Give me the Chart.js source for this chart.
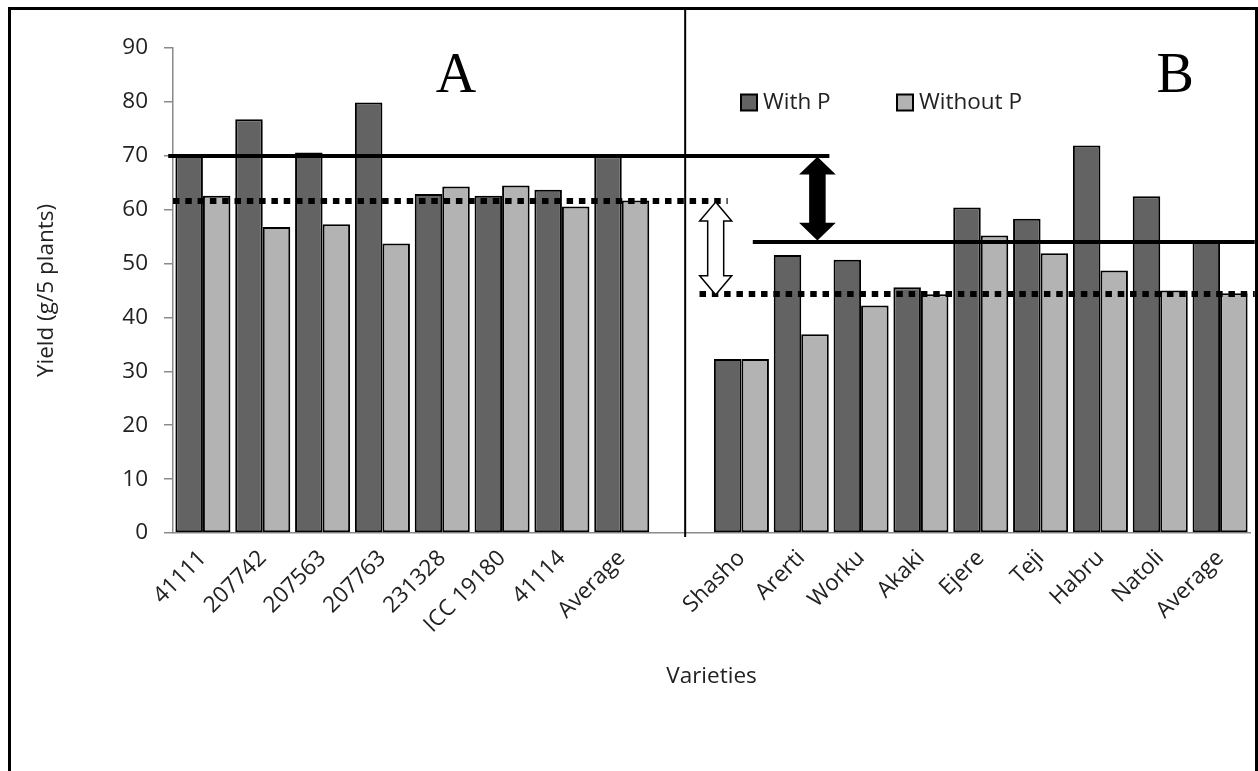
<!DOCTYPE html>
<html>
<head>
<meta charset="utf-8">
<script src="https://cdn.jsdelivr.net/npm/chart.js@4.4.1/dist/chart.umd.min.js"></script>
<style>
  html, body { margin: 0; padding: 0; background: #fff; }
  #wrap { width: 1258px; height: 771px; position: relative; }
</style>
</head>
<body>
<div id="wrap"><canvas id="c" width="1258" height="771"></canvas></div>
<script>
// ---- data ----
const categories = ['41111', '207742', '207563', '207763', '231328', 'ICC 19180', '41114', 'Average', '',
                    'Shasho', 'Arerti', 'Worku', 'Akaki', 'Ejere', 'Teji', 'Habru', 'Natoli', 'Average'];
const withP    = [70.0, 76.8, 70.6, 79.9, 62.9, 62.6, 63.7, 69.9, null,
                  32.3, 51.6, 50.7, 45.6, 60.4, 58.3, 71.9, 62.5, 54.0];
const withoutP = [62.6, 56.8, 57.3, 53.7, 64.3, 64.5, 60.6, 61.7, null,
                  32.3, 36.9, 42.2, 44.3, 55.2, 51.9, 48.7, 45.0, 44.5];
const seriesNames = ['With P', 'Without P'];
const avgWithPLines = [69.9, 54.0];     // group A, group B
const avgWithoutPLines = [61.6, 44.3];  // group A, group B
const panelLabels = ['A', 'B'];

const FONT = "'Open Sans', 'Noto Sans', sans-serif";
const FS = 22.5;
const TXT = '#222';
const DARK = '#636363';
const LIGHT = '#b3b3b3';
const AXIS = '#8a8a8a';

function doubleArrow(ctx, x, y1, y2, sw, hw, hl, fill) {
  ctx.beginPath();
  ctx.moveTo(x, y1);
  ctx.lineTo(x + hw / 2, y1 + hl);
  ctx.lineTo(x + sw / 2, y1 + hl);
  ctx.lineTo(x + sw / 2, y2 - hl);
  ctx.lineTo(x + hw / 2, y2 - hl);
  ctx.lineTo(x, y2);
  ctx.lineTo(x - hw / 2, y2 - hl);
  ctx.lineTo(x - sw / 2, y2 - hl);
  ctx.lineTo(x - sw / 2, y1 + hl);
  ctx.lineTo(x - hw / 2, y1 + hl);
  ctx.closePath();
  ctx.fillStyle = fill;
  ctx.fill();
  ctx.lineWidth = 1.5;
  ctx.strokeStyle = '#000';
  ctx.stroke();
}

const overlay = {
  id: 'overlay',
  afterDatasetsDraw(chart) {
    const ctx = chart.ctx;
    const xs = chart.scales.x, ys = chart.scales.y;
    const X = v => xs.getPixelForValue(v);
    const Y = v => ys.getPixelForValue(v);
    ctx.save();

    // outer frame
    ctx.strokeStyle = '#000';
    ctx.lineWidth = 3;
    ctx.strokeRect(9.5, 8.5, 1247, 780);

    // separator between groups
    ctx.lineWidth = 2;
    ctx.beginPath();
    ctx.moveTo(X(8.06), 9);
    ctx.lineTo(X(8.06), chart.chartArea.bottom + 4);
    ctx.stroke();

    // average lines
    const rightEdge = X(17.58);
    const lines = [
      { v: avgWithPLines[0], a: -0.58, b: 10.47, dotted: false },
      { v: avgWithoutPLines[0], a: -0.5, b: 8.77, dotted: true },
      { v: avgWithPLines[1], a: 9.19, b: null, dotted: false },
      { v: avgWithoutPLines[1], a: 8.3, b: null, dotted: true }
    ];
    lines.forEach(l => {
      ctx.beginPath();
      ctx.strokeStyle = '#000';
      ctx.lineCap = 'butt';
      if (l.dotted) { ctx.lineWidth = 6; ctx.setLineDash([6.5, 5.8]); }
      else { ctx.lineWidth = 4; ctx.setLineDash([]); }
      const y = Math.round(Y(l.v));
      ctx.moveTo(X(l.a), y);
      ctx.lineTo(l.b === null ? rightEdge : X(l.b), y);
      ctx.stroke();
    });
    ctx.setLineDash([]);

    // arrows
    doubleArrow(ctx, X(10.27), Y(avgWithPLines[0]) + 1.5, Y(avgWithPLines[1]) - 2.5, 15, 33, 16, '#000');
    doubleArrow(ctx, X(8.57), Y(avgWithoutPLines[0]) + 1, Y(avgWithoutPLines[1]) + 0.5, 16, 32, 19, '#fff');

    // legend
    ctx.font = FS + 'px ' + FONT;
    ctx.textBaseline = 'middle';
    ctx.textAlign = 'left';
    const legendItems = [
      { x: 741, color: DARK, text: seriesNames[0] },
      { x: 897, color: LIGHT, text: seriesNames[1] }
    ];
    legendItems.forEach(it => {
      ctx.fillStyle = it.color;
      ctx.fillRect(it.x, 94.5, 16, 16);
      ctx.lineWidth = 2;
      ctx.strokeStyle = '#000';
      ctx.strokeRect(it.x, 94.5, 16, 16);
      ctx.fillStyle = TXT;
      ctx.fillText(it.text, it.x + 22, 102.5);
    });

    // panel letters
    ctx.font = "56px 'Liberation Serif', 'DejaVu Serif', serif";
    ctx.fillStyle = '#000';
    ctx.textBaseline = 'alphabetic';
    ctx.textAlign = 'center';
    ctx.fillText(panelLabels[0], X(4.23), 92);
    ctx.fillText(panelLabels[1], X(16.25), 92);

    ctx.restore();
  }
};

new Chart(document.getElementById('c'), {
  type: 'bar',
  data: {
    labels: categories,
    datasets: [
      { label: seriesNames[0], data: withP, backgroundColor: DARK, borderColor: '#000', borderWidth: 2, borderSkipped: false },
      { label: seriesNames[1], data: withoutP, backgroundColor: LIGHT, borderColor: '#000', borderWidth: 2, borderSkipped: false }
    ]
  },
  options: {
    responsive: false,
    animation: false,
    devicePixelRatio: 1,
    datasets: { bar: { categoryPercentage: 0.92, barPercentage: 1.0 } },
    layout: { padding: { top: 48, right: 8, bottom: 0, left: 0 } },
    plugins: { legend: { display: false }, tooltip: { enabled: false } },
    scales: {
      x: {
        grid: { display: false, drawTicks: false },
        border: { display: true, color: AXIS, width: 1.5 },
        ticks: { autoSkip: false, maxRotation: 45, minRotation: 45, padding: 12, color: TXT, font: { family: FONT, size: FS } },
        title: { display: true, text: 'Varieties', color: TXT, font: { family: FONT, size: FS }, padding: { top: 4, bottom: 81 } },
        afterFit(s) { s.height = 238; }
      },
      y: {
        min: 0, max: 90,
        ticks: { stepSize: 10, padding: 16, color: TXT, font: { family: FONT, size: FS } },
        grid: { drawOnChartArea: false, drawTicks: true, tickLength: 9, color: AXIS, lineWidth: 1.5 },
        border: { display: true, color: AXIS, width: 1.5 },
        title: { display: true, text: 'Yield (g/5 plants)', color: TXT, font: { family: FONT, size: FS }, padding: { top: 33, bottom: 4 } },
        afterFit(s) { s.width = 173; }
      }
    }
  },
  plugins: [overlay]
});
</script>
</body>
</html>
